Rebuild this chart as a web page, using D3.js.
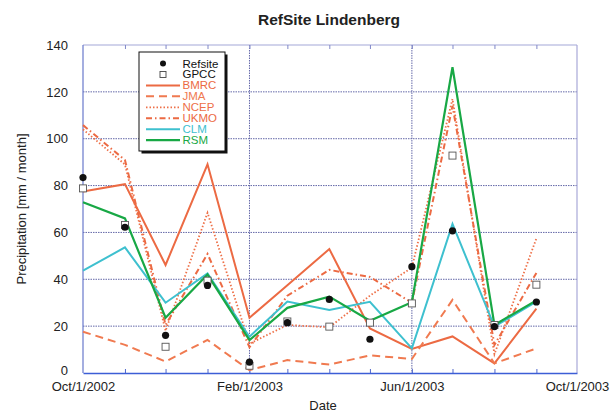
<!DOCTYPE html>
<html><head><meta charset="utf-8">
<script src="https://cdn.jsdelivr.net/npm/d3@7"></script>
<style>
html,body{margin:0;padding:0;background:#fff;}
text{font-family:"Liberation Sans",Arial,Helvetica,sans-serif;}
</style></head>
<body><svg id="chart" width="610" height="412"></svg>
<script>
// ---- data ----
const months = ["2002-10-01","2002-11-01","2002-12-01","2003-01-01","2003-02-01","2003-03-01",
                "2003-04-01","2003-05-01","2003-06-01","2003-07-01","2003-08-01","2003-09-01"];
const refsite = [83.4, 62.2, 16.1, 37.4, 4.6, 21.5, 31.4, 14.4, 45.4, 60.7, 19.8, 30.3];
const gpcc    = [78.8, 63.2, 11.2, 39.4, 3.1, 22.0, 19.8, 21.5, 29.7, 92.8, 20.5, 37.7];
const bmrc    = [77.5, 80.6, 46.1, 89.1, 23.6, 37.5, 52.9, 19.0, 10.3, 15.6, 4.1, 27.5];
const jma     = [17.6, 12.0, 4.9, 14.1, 1.2, 5.5, 3.6, 7.5, 6.0, 31.2, 4.1, 10.5];
const ncep    = [104.0, 89.0, 18.0, 68.4, 12.5, 20.5, 19.5, 33.0, 45.0, 117.0, 8.0, 57.5];
const ukmo    = [105.8, 90.9, 20.5, 50.8, 11.0, 33.0, 44.0, 41.0, 30.0, 114.0, 12.0, 42.7];
const clm     = [43.7, 53.6, 30.0, 42.5, 15.5, 30.5, 26.9, 30.4, 10.5, 63.6, 19.8, 30.5];
const rsm     = [72.9, 66.0, 23.6, 42.0, 14.0, 27.8, 32.6, 22.3, 30.2, 130.5, 20.5, 31.0];
const xTickDates  = ["2002-10-01","2003-02-01","2003-06-01","2003-10-01"];
const xTickLabels = ["Oct/1/2002","Feb/1/2003","Jun/1/2003","Oct/1/2003"];
const yTicks = [0,20,40,60,80,100,120,140];
const title = "RefSite Lindenberg";
const xLabel = "Date";
const yLabel = "Precipitation [mm / month]";

// ---- layout / styles ----
const parse = d3.utcParse("%Y-%m-%d");
const dates = months.map(parse);
const svg = d3.select("#chart");
const L = 83, R = 577, T = 45, B = 373;
const x = d3.scaleUtc().domain([parse("2002-10-01"), parse("2003-10-01")]).range([L, R]);
const y = d3.scaleLinear().domain([0, 140]).range([B, T]);

const orange = "#ec6a43";
const series = [
  {name:"BMRC", data:bmrc, color:orange, dash:null, w:2},
  {name:"JMA",  data:jma,  color:"#f07a50", dash:"8,5", w:2},
  {name:"NCEP", data:ncep, color:"#ee7048", dash:"1.5,2", w:1.8},
  {name:"UKMO", data:ukmo, color:"#ec6a43", dash:"6,3,1.5,3", w:2},
  {name:"CLM",  data:clm,  color:"#3ec0cf", dash:null, w:2},
  {name:"RSM",  data:rsm,  color:"#18a845", dash:null, w:2.2}
];

// gridlines
const grid = svg.append("g");
grid.selectAll("line.h").data(yTicks.filter(v => v > 0 && v < 140)).enter().append("line")
  .attr("x1", L).attr("x2", R).attr("y1", d => y(d)).attr("y2", d => y(d))
  .attr("stroke", "#6468a8").attr("stroke-width", 1).attr("stroke-dasharray", "1.5,1");
grid.selectAll("line.v").data(xTickDates.slice(1, 3).map(parse)).enter().append("line")
  .attr("x1", d => x(d)).attr("x2", d => x(d)).attr("y1", T).attr("y2", B)
  .attr("stroke", "#6468a8").attr("stroke-width", 1).attr("stroke-dasharray", "1.5,1");

// frame
svg.append("line").attr("x1", L).attr("x2", R).attr("y1", T).attr("y2", T).attr("stroke", "#a3a8d8").attr("stroke-width", 1.2);
svg.append("line").attr("x1", R).attr("x2", R).attr("y1", T).attr("y2", B).attr("stroke", "#a8a8d8").attr("stroke-width", 1.2);
svg.append("line").attr("x1", L).attr("x2", L).attr("y1", T).attr("y2", B).attr("stroke", "#6878cc").attr("stroke-width", 1.2);

// month ticks (top and bottom, inward)
const monthTicks = dates.slice(1);
svg.append("g").attr("transform", `translate(0,${T})`)
  .call(d3.axisTop(x).tickValues(monthTicks).tickSize(-4).tickFormat(""))
  .call(g => g.select(".domain").remove())
  .call(g => g.selectAll("line").attr("stroke", "#8088c8"));
svg.append("g").attr("transform", `translate(0,${B})`)
  .call(d3.axisBottom(x).tickValues(monthTicks).tickSize(-4).tickFormat(""))
  .call(g => g.select(".domain").remove())
  .call(g => g.selectAll("line").attr("stroke", "#5068cc"));

// x axis labels
const xAxis = svg.append("g").attr("transform", `translate(0,${B})`)
  .call(d3.axisBottom(x).tickValues(xTickDates.map(parse)).tickSize(0).tickPadding(9)
    .tickFormat((d, i) => xTickLabels[i]));
xAxis.select(".domain").attr("stroke", "#3c5ed6").attr("stroke-width", 1.6);
xAxis.selectAll("text").attr("font-size", 13).attr("fill", "#222")
  .style("font-family", '"Liberation Sans",Arial,sans-serif');

// y axis labels
const yAxis = svg.append("g").attr("transform", `translate(${L},0)`)
  .call(d3.axisLeft(y).tickValues(yTicks).tickSize(0).tickPadding(15));
yAxis.select(".domain").remove();
yAxis.selectAll("text").attr("font-size", 13).attr("fill", "#222")
  .style("font-family", '"Liberation Sans",Arial,sans-serif');
yAxis.selectAll("text").filter(d => d === 0).attr("dy", "0.1em");

// series lines
const line = d3.line().x((d, i) => x(dates[i])).y(d => y(d));
series.forEach(s => {
  svg.append("path").datum(s.data).attr("d", line)
    .attr("fill", "none").attr("stroke", s.color).attr("stroke-width", s.w)
    .attr("stroke-dasharray", s.dash).attr("stroke-linejoin", "miter");
});

// markers
svg.append("g").selectAll("rect").data(gpcc).enter().append("rect")
  .attr("x", (d, i) => x(dates[i]) - 3.5).attr("y", d => y(d) - 3.5)
  .attr("width", 7).attr("height", 7).attr("fill", "#fff").attr("stroke", "#555").attr("stroke-width", 0.9);
svg.append("g").selectAll("circle").data(refsite).enter().append("circle")
  .attr("cx", (d, i) => x(dates[i])).attr("cy", d => y(d)).attr("r", 3.6).attr("fill", "#111");

// titles
svg.append("text").attr("x", 329).attr("y", 25).attr("text-anchor", "middle")
  .attr("font-size", 15.5).attr("font-weight", "bold").attr("fill", "#222").text(title);
svg.append("text").attr("x", 323).attr("y", 410).attr("text-anchor", "middle")
  .attr("font-size", 13).attr("fill", "#222").text(xLabel);
svg.append("text").attr("transform", "translate(26,209) rotate(-90)").attr("text-anchor", "middle")
  .attr("font-size", 13).attr("fill", "#222").text(yLabel);

// legend
const lg = svg.append("g");
const lx = 139, ly = 52, lw = 86, lh = 99;
lg.append("rect").attr("x", lx + 2.5).attr("y", ly + 2.5).attr("width", lw).attr("height", lh).attr("fill", "#111");
lg.append("rect").attr("x", lx).attr("y", ly).attr("width", lw).attr("height", lh).attr("fill", "#fff")
  .attr("stroke", "#111").attr("stroke-width", 1);
const legendItems = [
  {name:"Refsite", type:"dot", tcolor:"#111"},
  {name:"GPCC", type:"sq", tcolor:"#111"}
].concat(series.map(s => ({name:s.name, type:"line", s:s, tcolor:s.color})));
legendItems.forEach((it, i) => {
  const yy = ly + 11.5 + i * 10.95;
  if (it.type === "dot") {
    lg.append("circle").attr("cx", 163).attr("cy", yy).attr("r", 3).attr("fill", "#111");
  } else if (it.type === "sq") {
    lg.append("rect").attr("x", 160).attr("y", yy - 3).attr("width", 6).attr("height", 6)
      .attr("fill", "#fff").attr("stroke", "#444").attr("stroke-width", 0.9);
  } else {
    lg.append("line").attr("x1", 146).attr("x2", 180).attr("y1", yy).attr("y2", yy)
      .attr("stroke", it.s.color).attr("stroke-width", it.s.w).attr("stroke-dasharray", it.s.dash);
  }
  lg.append("text").attr("x", 182.5).attr("y", yy + 4).attr("font-size", 11.5)
    .attr("fill", it.tcolor).text(it.name);
});
</script></body></html>
